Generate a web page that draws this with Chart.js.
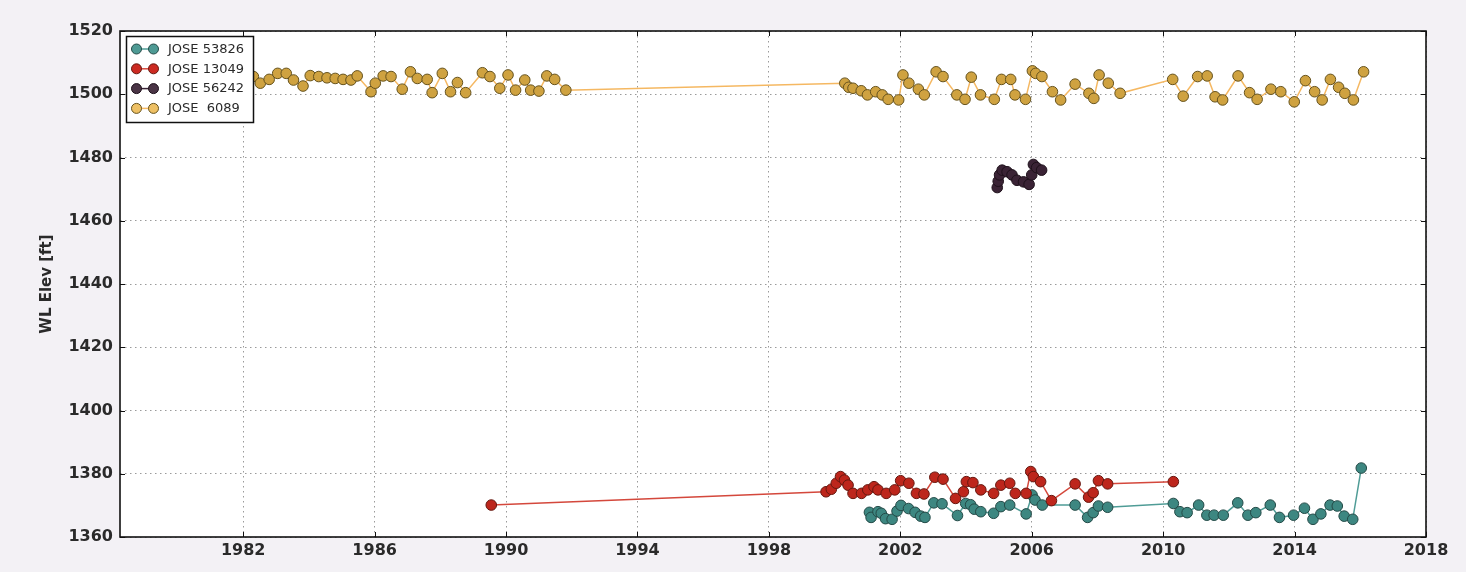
<!DOCTYPE html>
<html>
<head>
<meta charset="utf-8">
<title>WL Elev</title>
<script src="https://cdn.jsdelivr.net/npm/chart.js@4/dist/chart.umd.min.js"></script>
<style>
  html, body { margin: 0; padding: 0; background: #f3f1f5; }
  #wrap { width: 1466px; height: 572px; }
</style>
</head>
<body>
<div id="wrap"><canvas id="wl" width="1466" height="572"></canvas></div>
<script>
"use strict";

/* ---------- data ---------- */
const xTickYears = [1982, 1986, 1990, 1994, 1998, 2002, 2006, 2010, 2014, 2018];
const yTickElev = [1360, 1380, 1400, 1420, 1440, 1460, 1480, 1500, 1520];

const wellNames = ["JOSE 53826", "JOSE 13049", "JOSE 56242", "JOSE  6089"];

const yrs53826 = [2001.06, 2001.11, 2001.32, 2001.42, 2001.55, 2001.75, 2001.90, 2002.02, 2002.25, 2002.45,
  2002.62, 2002.75, 2003.02, 2003.27, 2003.74, 2003.99, 2004.14, 2004.25, 2004.45, 2004.84,
  2005.06, 2005.33, 2005.83, 2006.01, 2006.10, 2006.32, 2007.32, 2007.70, 2007.87, 2008.03,
  2008.31, 2010.31, 2010.51, 2010.73, 2011.08, 2011.33, 2011.55, 2011.83, 2012.27, 2012.58,
  2012.82, 2013.26, 2013.54, 2013.97, 2014.30, 2014.56, 2014.80, 2015.08, 2015.30, 2015.51,
  2015.77, 2016.03];
const wl53826 = [1367.8, 1366.2, 1368.0, 1367.5, 1365.8, 1365.6, 1368.2, 1370.0, 1369.0, 1367.8,
  1366.6, 1366.2, 1370.8, 1370.5, 1366.8, 1370.6, 1370.2, 1368.8, 1368.0, 1367.5,
  1369.6, 1370.1, 1367.3, 1373.3, 1371.7, 1370.1, 1370.1, 1366.2, 1367.7, 1369.8,
  1369.4, 1370.6, 1368.0, 1367.7, 1370.1, 1366.9, 1366.9, 1366.9, 1370.8, 1366.9,
  1367.7, 1370.1, 1366.2, 1366.9, 1369.1, 1365.6, 1367.3, 1370.1, 1369.8, 1366.6,
  1365.6, 1381.8];

const yrs13049 = [1989.55, 1999.74, 1999.90, 2000.05, 2000.18, 2000.30, 2000.41, 2000.56, 2000.82, 2001.01,
  2001.20, 2001.32, 2001.57, 2001.83, 2002.01, 2002.26, 2002.49, 2002.72, 2003.05, 2003.30,
  2003.68, 2003.92, 2004.01, 2004.21, 2004.45, 2004.84, 2005.06, 2005.33, 2005.50, 2005.83,
  2005.97, 2006.05, 2006.27, 2006.60, 2007.32, 2007.73, 2007.87, 2008.03, 2008.31, 2010.31];
const wl13049 = [1370.1, 1374.3, 1375.1, 1377.0, 1379.1, 1378.0, 1376.4, 1373.8, 1373.8, 1374.9,
  1375.9, 1374.9, 1373.8, 1374.9, 1377.8, 1377.0, 1373.8, 1373.6, 1378.9, 1378.3,
  1372.2, 1374.3, 1377.5, 1377.2, 1374.9, 1373.8, 1376.4, 1377.0, 1373.8, 1373.8,
  1380.7, 1379.1, 1377.5, 1371.5, 1376.8, 1372.6, 1374.0, 1377.8, 1376.8, 1377.5];

const yrs56242 = [2004.95, 2004.98, 2005.02, 2005.10, 2005.25, 2005.40, 2005.55, 2005.75, 2005.92, 2006.00,
  2006.05, 2006.15, 2006.30];
const wl56242 = [1470.5, 1472.5, 1474.5, 1476.0, 1475.5, 1474.5, 1472.8, 1472.3, 1471.5, 1474.5,
  1477.8, 1476.8, 1476.0];

const yrs6089 = [1982.31, 1982.52, 1982.79, 1983.05, 1983.31, 1983.53, 1983.82, 1984.04, 1984.30, 1984.55,
  1984.80, 1985.04, 1985.28, 1985.47, 1985.89, 1986.02, 1986.26, 1986.50, 1986.84, 1987.09,
  1987.30, 1987.60, 1987.75, 1988.06, 1988.31, 1988.52, 1988.77, 1989.28, 1989.51, 1989.81,
  1990.06, 1990.29, 1990.57, 1990.75, 1991.00, 1991.24, 1991.48, 1991.82,
  2000.31, 2000.43, 2000.56, 2000.81, 2001.00, 2001.25, 2001.45, 2001.63, 2001.95, 2002.08,
  2002.26, 2002.55, 2002.73, 2003.09, 2003.30, 2003.72, 2003.97, 2004.16, 2004.44, 2004.86,
  2005.08, 2005.36, 2005.49, 2005.81, 2006.02, 2006.12, 2006.31, 2006.63, 2006.88, 2007.32,
  2007.74, 2007.89, 2008.05, 2008.33, 2008.69,
  2010.29, 2010.61, 2011.05, 2011.34, 2011.58, 2011.81, 2012.28, 2012.63, 2012.86, 2013.28,
  2013.58, 2013.99, 2014.33, 2014.61, 2014.84, 2015.09, 2015.34, 2015.53, 2015.79, 2016.10];
const wl6089 = [1505.6, 1503.5, 1504.7, 1506.6, 1506.6, 1504.5, 1502.6, 1505.9, 1505.6, 1505.2,
  1505.0, 1504.7, 1504.5, 1505.8, 1500.8, 1503.5, 1505.8, 1505.6, 1501.6, 1507.1,
  1505.0, 1504.7, 1500.5, 1506.6, 1500.8, 1503.7, 1500.5, 1506.8, 1505.6, 1501.9,
  1506.1, 1501.3, 1504.5, 1501.3, 1501.0, 1505.8, 1504.7, 1501.3,
  1503.5, 1502.2, 1501.9, 1501.1, 1499.8, 1500.8, 1499.8, 1498.4, 1498.2, 1506.1,
  1503.5, 1501.6, 1499.8, 1507.1, 1505.6, 1499.8, 1498.4, 1505.4, 1499.8, 1498.4,
  1504.7, 1504.7, 1499.8, 1498.4, 1507.4, 1506.6, 1505.6, 1500.8, 1498.2, 1503.2,
  1500.3, 1498.7, 1506.1, 1503.5, 1500.3,
  1504.7, 1499.4, 1505.6, 1505.8, 1499.2, 1498.2, 1505.8, 1500.5, 1498.4, 1501.6,
  1500.8, 1497.6, 1504.3, 1500.8, 1498.2, 1504.7, 1502.2, 1500.3, 1498.2, 1507.1];

const toPoints = (xs, ys) => xs.map((x, i) => ({ x, y: ys[i] }));

/* ---------- series styling ---------- */
const series = [
  { label: wellNames[0], data: toPoints(yrs53826, wl53826), line: "#4f9c96", fill: "#3d8781", edge: "#244a47", legendFill: "#4e9a94", order: 4 },
  { label: wellNames[1], data: toPoints(yrs13049, wl13049), line: "#d4483c", fill: "#bd261c", edge: "#661810", legendFill: "#cc2a22", order: 3 },
  { label: wellNames[2], data: toPoints(yrs56242, wl56242), line: "#3b2436", fill: "#3a2335", edge: "#1e111b", legendFill: "#4a3445", order: 2 },
  { label: wellNames[3], data: toPoints(yrs6089, wl6089), line: "#f5b862", fill: "#cfa240", edge: "#66531e", legendFill: "#eec064", order: 1 }
];

const datasets = series.map(s => ({
  label: s.label,
  data: s.data,
  order: s.order,
  borderColor: s.line,
  borderWidth: 1.5,
  pointRadius: 5.3,
  pointBorderWidth: 1,
  pointBackgroundColor: s.fill,
  pointBorderColor: s.edge,
  legendFill: s.legendFill,
  tension: 0,
  fill: false
}));

// white plot face, black frame, inward ticks and the boxed legend (matplotlib style)
const mplFrame = {
  id: "mplFrame",
  beforeDraw(chart) {
    const { ctx, chartArea: a } = chart;
    ctx.save();
    ctx.fillStyle = "#ffffff";
    ctx.fillRect(a.left, a.top, a.right - a.left, a.bottom - a.top);
    ctx.restore();
  },
  afterDraw(chart) {
    const { ctx, chartArea: a, scales } = chart;
    ctx.save();
    ctx.strokeStyle = "#111";
    ctx.lineWidth = 1;
    xTickYears.forEach(v => {
      const px = Math.round(scales.x.getPixelForValue(v)) + 0.5;
      ctx.beginPath();
      ctx.moveTo(px, a.bottom); ctx.lineTo(px, a.bottom - 5);
      ctx.moveTo(px, a.top); ctx.lineTo(px, a.top + 5);
      ctx.stroke();
    });
    yTickElev.forEach(v => {
      const py = Math.round(scales.y.getPixelForValue(v)) + 0.5;
      ctx.beginPath();
      ctx.moveTo(a.left, py); ctx.lineTo(a.left + 5, py);
      ctx.moveTo(a.right, py); ctx.lineTo(a.right - 5, py);
      ctx.stroke();
    });
    ctx.lineWidth = 1.6;
    ctx.strokeStyle = "#111";
    ctx.strokeRect(a.left, a.top, a.right - a.left, a.bottom - a.top);

    // legend
    const x0 = a.left + 6.5, y0 = a.top + 5.5, w = 127, h = 86;
    ctx.fillStyle = "#ffffff";
    ctx.fillRect(x0, y0, w, h);
    ctx.lineWidth = 1.5;
    ctx.strokeStyle = "#111";
    ctx.strokeRect(x0, y0, w, h);
    ctx.font = "13px 'DejaVu Sans'";
    ctx.textBaseline = "middle";
    chart.data.datasets.forEach((ds, i) => {
      const cy = y0 + 12.5 + i * 19.8;
      const c1 = x0 + 10, c2 = x0 + 27;
      ctx.strokeStyle = ds.borderColor;
      ctx.lineWidth = 1.5;
      ctx.beginPath(); ctx.moveTo(c1, cy); ctx.lineTo(c2, cy); ctx.stroke();
      [c1, c2].forEach(cx => {
        ctx.beginPath();
        ctx.arc(cx, cy, 5, 0, Math.PI * 2);
        ctx.fillStyle = ds.legendFill;
        ctx.fill();
        ctx.lineWidth = 1;
        ctx.strokeStyle = ds.pointBorderColor;
        ctx.stroke();
      });
      ctx.fillStyle = "#2a2a2a";
      ctx.fillText(ds.label, x0 + 41.5, cy + 0.5);
    });
    ctx.restore();
  }
};

const tickFont = { family: "'DejaVu Sans'", size: 16, weight: "bold" };

new Chart(document.getElementById("wl"), {
  type: "line",
  data: { datasets },
  plugins: [mplFrame],
  options: {
    responsive: false,
    animation: false,
    devicePixelRatio: 1,
    layout: { padding: { left: 0, top: 31, right: 40, bottom: 0 } },
    plugins: { legend: { display: false }, tooltip: { enabled: false } },
    scales: {
      x: {
        type: "linear",
        min: 1978.25,
        max: 2018,
        afterBuildTicks: s => { s.ticks = xTickYears.map(v => ({ value: v })); },
        afterFit: s => { s.height = 35; },
        ticks: { font: tickFont, color: "#2a2a2a", padding: 4, maxRotation: 0, autoSkip: false, callback: v => String(v) },
        grid: { color: "#9a9a9a", lineWidth: 1, drawTicks: false },
        border: { display: false, dash: [1.5, 3.5] }
      },
      y: {
        type: "linear",
        min: 1360,
        max: 1520,
        afterBuildTicks: s => { s.ticks = yTickElev.map(v => ({ value: v })); },
        afterFit: s => { s.width = 120; },
        ticks: { font: tickFont, color: "#2a2a2a", padding: 7, autoSkip: false, callback: v => String(v) },
        grid: { color: "#9a9a9a", lineWidth: 1, drawTicks: false },
        border: { display: false, dash: [1.5, 3.5] },
        title: {
          display: true,
          text: "WL Elev [ft]",
          color: "#2a2a2a",
          font: { family: "'DejaVu Sans'", size: 15, weight: "bold" },
          padding: { top: 38, bottom: 0 }
        }
      }
    }
  }
});
</script>
</body>
</html>
